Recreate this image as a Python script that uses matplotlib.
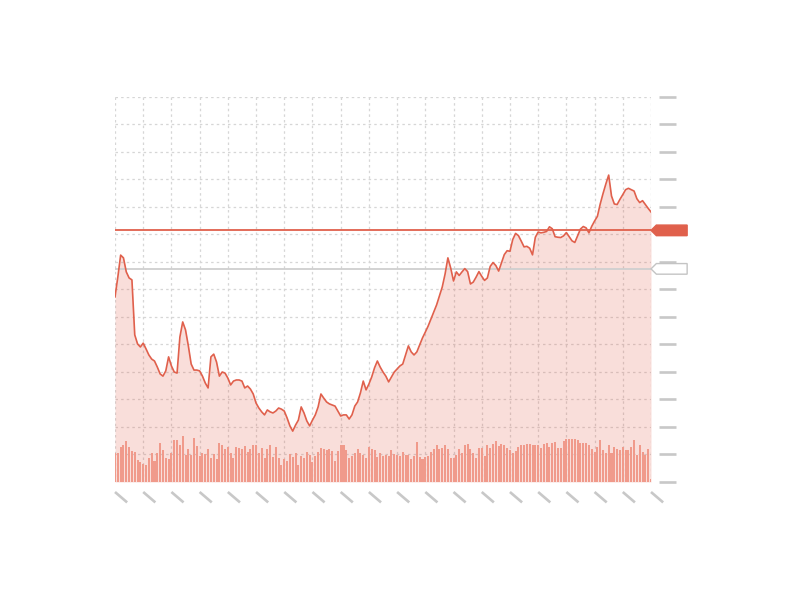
import matplotlib
matplotlib.use("Agg")
import matplotlib.pyplot as plt
import matplotlib.transforms as mtransforms
from matplotlib.patches import Polygon
import numpy as np

# ---- data ----
price = [
    67.3, 74.5, 82.5, 81.5, 76.4, 74.2, 73.5, 53.5, 50.2, 49.1,
    50.5, 48.4, 46.2, 44.7, 44.0, 41.8, 39.3, 38.5, 40.4, 45.5,
    42.2, 40.0, 39.6, 52.7, 58.2, 55.3, 49.5, 42.9, 40.7, 40.7,
    40.4, 38.5, 36.0, 34.2, 45.5, 46.5, 43.6, 38.5, 40.0, 39.6,
    37.8, 35.3, 36.7, 37.1, 37.1, 36.7, 34.2, 34.9, 33.8, 32.0,
    28.7, 26.9, 25.5, 24.4, 26.2, 25.5, 25.1, 25.8, 26.9, 26.5,
    25.8, 23.3, 20.4, 18.5, 20.7, 22.5, 27.3, 25.1, 22.2, 20.4,
    22.5, 24.4, 27.3, 32.0, 30.5, 29.1, 28.4, 28.0, 27.6, 25.8,
    24.0, 24.4, 24.4, 22.9, 24.4, 27.6, 29.1, 32.4, 36.7, 33.5,
    35.6, 38.2, 41.5, 44.0, 41.8, 40.0, 38.5, 36.4, 38.2, 40.0,
    41.1, 42.2, 42.9, 46.2, 49.5, 47.3, 46.2, 47.3, 49.8, 52.4,
    54.5, 56.7, 59.3, 61.8, 64.4, 67.6, 70.9, 75.6, 81.5, 77.8,
    73.1, 76.4, 75.1, 76.4, 77.6, 76.5, 72.0, 72.7, 74.5, 76.5,
    74.8, 73.3, 74.2, 78.4, 79.8, 78.7, 76.7, 79.7, 82.7, 84.1,
    83.9, 88.2, 90.4, 89.6, 87.6, 85.5, 85.7, 85.0, 82.6, 89.0,
    90.9, 90.6, 90.8, 91.1, 92.8, 92.1, 89.2, 89.0, 88.9, 89.5,
    90.7, 89.2, 87.7, 87.1, 89.5, 92.0, 92.9, 92.4, 90.6, 93.0,
    94.9, 96.6, 101.1, 104.9, 108.4, 111.6, 104.0, 101.1, 100.9, 102.8,
    104.5, 106.3, 106.8, 106.3, 105.8, 103.0, 101.6, 102.3, 100.9, 99.5,
    98.2,
]

volume = [
    88, 88, 105, 110, 122, 105, 92, 90, 65, 60,
    53, 50, 72, 88, 62, 88, 118, 95, 72, 70,
    88, 125, 125, 112, 138, 82, 100, 82, 132, 108,
    78, 88, 85, 100, 72, 85, 70, 118, 112, 100,
    105, 88, 72, 105, 102, 100, 108, 90, 100, 110,
    112, 88, 102, 72, 100, 110, 75, 105, 72, 50,
    70, 62, 85, 75, 88, 50, 78, 72, 90, 80,
    60, 78, 90, 102, 100, 95, 98, 92, 62, 92,
    110, 112, 95, 72, 78, 88, 98, 88, 80, 72,
    105, 100, 95, 75, 88, 78, 82, 78, 95, 85,
    80, 78, 90, 82, 80, 70, 78, 120, 75, 68,
    75, 78, 90, 100, 110, 100, 102, 110, 100, 72,
    72, 82, 100, 88, 110, 115, 100, 88, 72, 102,
    102, 78, 112, 102, 115, 122, 108, 115, 110, 102,
    95, 88, 92, 105, 110, 112, 115, 115, 110, 112,
    112, 102, 115, 118, 105, 118, 120, 102, 102, 122,
    128, 128, 128, 128, 125, 118, 118, 118, 112, 100,
    90, 105, 125, 95, 88, 110, 88, 105, 100, 95,
    105, 95, 95, 105, 125, 82, 110, 90, 82, 100,
    8,
]

level_red = 91.5
level_gray = 77.5

y_ticks = list(range(0, 141, 10))
x_ticks = list(range(0, 191, 10))

# ---- styling ----
LINE = "#e0604c"
FILL = "#e45a46"
BAR = "#f09a8b"
GRID = "#d6d6d6"
TICK = "#c8c8c8"

fig = plt.figure(figsize=(8, 6), dpi=100)
ax = fig.add_axes([0.14375, 0.19667, 0.67, 0.64167])
ax2 = ax.twinx()
x = np.arange(len(price))

ax.fill_between(x, price, 0, color=FILL, alpha=0.2, linewidth=0, zorder=1)
ax.plot(x, price, color=LINE, lw=1.2, zorder=4)

ax.set_xlim(0, len(price) - 1)
ax.set_ylim(0, 140)
ax.set_xticks(x_ticks)
ax.set_yticks(y_ticks)
ax.grid(True, color=GRID, linestyle=(0, (2, 2.5)), linewidth=0.9)
ax.set_axisbelow(True)
for s in ax.spines.values():
    s.set_visible(False)
ax.tick_params(axis="x", length=0, labelbottom=False)
ax.yaxis.tick_right()
ax.spines["right"].set_position(("outward", 5.8))
ax.tick_params(axis="y", which="major", direction="out", length=12.5,
               width=1.9, color=TICK, labelright=False, labelleft=False,
               left=False, right=True)

# level lines
ax.axhline(level_red, color=LINE, lw=1.3, zorder=5)
ax.axhline(level_gray, color="#cfcfcf", lw=1.3, zorder=3)

# tags on the right
btrans = mtransforms.blended_transform_factory(ax.transAxes, ax.transData)
w = 34 / 536
hh = 5.3 / 2.75
for lvl, fc, ec in [(level_red, "#e0604c", "#e0604c"), (level_gray, "white", "#c4c4c4")]:
    poly = Polygon([(1.0, lvl), (1.01, lvl + hh), (1.0 + w + 0.004, lvl + hh),
                    (1.0 + w + 0.004, lvl - hh), (1.01, lvl - hh)],
                   closed=True, transform=btrans, facecolor=fc, edgecolor=ec,
                   lw=1.0, clip_on=False, zorder=10)
    ax.add_patch(poly)

# diagonal x markers
xtrans = ax.get_xaxis_transform()
for t in x_ticks:
    ax.plot([t, t + 4.3], [-0.026, -0.053], color=TICK, lw=1.9,
            transform=xtrans, clip_on=False, solid_capstyle="butt")

# volume bars
ax2.bar(x, volume, width=0.72, color=BAR, linewidth=0, zorder=2)
ax2.set_ylim(0, 1155)
ax2.set_xlim(0, len(price) - 1)
ax2.axis("off")

fig.savefig("out.png", dpi=100)
